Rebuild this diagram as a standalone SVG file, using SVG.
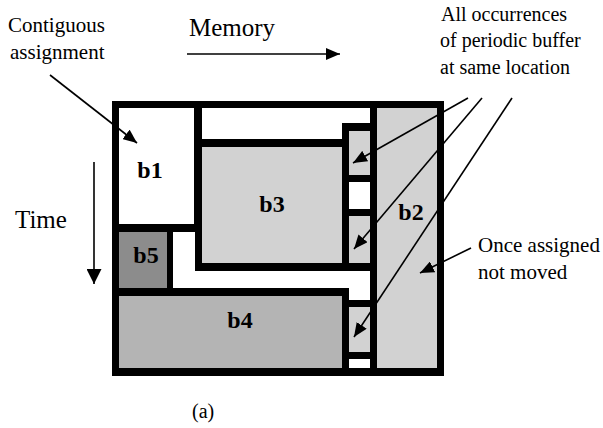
<svg xmlns="http://www.w3.org/2000/svg" width="603" height="428" viewBox="0 0 603 428">
<style>
  .blk { font-weight: bold; font-size: 24px; text-anchor: middle; }
  .ln { stroke: #000; stroke-width: 1.6; fill: none; }
  .light { fill: #d2d2d2; }
  .mid { fill: #b4b4b4; }
  .dark { fill: #8c8c8c; }
  .wht { fill: #fff; }
</style>
<defs>
  <marker id="ah" markerUnits="userSpaceOnUse" markerWidth="14" markerHeight="12" refX="14" refY="6" orient="auto">
    <path d="M0,0 L14,6 L0,12 z" fill="#000"/>
  </marker>
  <marker id="ahb" markerUnits="userSpaceOnUse" markerWidth="15" markerHeight="15" refX="15" refY="7.5" orient="auto">
    <path d="M0,0 L15,7.5 L0,15 z" fill="#000"/>
  </marker>
</defs>
<rect width="603" height="428" fill="#fff"/>

<g id="frame">
  <rect x="112" y="101" width="332" height="275" fill="#000"/>
  <rect class="wht" x="202" y="108" width="168" height="15"/>
  <rect class="wht" x="202" y="123" width="140" height="16"/>
  <rect class="wht" x="173" y="232" width="22" height="56"/>
  <rect class="wht" x="173" y="271" width="197" height="17"/>
  <rect class="wht" x="349" y="288" width="21" height="12"/>
</g>

<g id="b1">
  <rect class="wht" x="119" y="108" width="75" height="116"/>
  <text class="blk" x="150" y="178" font-family="Liberation Serif">b1</text>
</g>
<g id="b3">
  <rect class="light" x="202" y="147" width="140" height="116"/>
  <text class="blk" x="272" y="212" font-family="Liberation Serif">b3</text>
</g>
<g id="b5">
  <rect class="dark" x="119" y="232" width="48" height="56"/>
  <text class="blk" x="146" y="263" font-family="Liberation Serif">b5</text>
</g>
<g id="b4">
  <rect class="mid" x="119" y="296" width="223" height="72"/>
  <text class="blk" x="240" y="328" font-family="Liberation Serif">b4</text>
</g>
<g id="b2">
  <rect class="light" x="377" y="108" width="60" height="260"/>
  <text class="blk" x="411" y="220" font-family="Liberation Serif">b2</text>
</g>
<g id="periodic">
  <rect class="light" x="349" y="131" width="21" height="44"/>
  <rect class="wht" x="349" y="182" width="21" height="27"/>
  <rect class="light" x="349" y="216" width="21" height="47"/>
  <rect class="light" x="349" y="307" width="21" height="45"/>
  <rect class="wht" x="349" y="359" width="21" height="9"/>
</g>

<g id="labels">
  <text font-family="Liberation Serif" font-size="21" x="8" y="32">Contiguous</text>
  <text font-family="Liberation Serif" font-size="21" x="10" y="59">assignment</text>
  <text font-family="Liberation Serif" font-size="25" x="189" y="36">Memory</text>
  <text font-family="Liberation Serif" font-size="25" x="15" y="228">Time</text>
  <text font-family="Liberation Serif" font-size="20" x="441" y="21">All occurrences</text>
  <text font-family="Liberation Serif" font-size="20" x="440" y="47">of periodic buffer</text>
  <text font-family="Liberation Serif" font-size="20" x="440" y="74">at same location</text>
  <text font-family="Liberation Serif" font-size="21" x="478" y="252">Once assigned</text>
  <text font-family="Liberation Serif" font-size="21" x="478" y="279">not moved</text>
  <text font-family="Liberation Serif" font-size="20" x="192" y="418">(a)</text>
</g>

<g id="connectors">
  <line class="ln" x1="187" y1="54" x2="340" y2="54" marker-end="url(#ah)"/>
  <line class="ln" x1="94" y1="162" x2="94" y2="284" marker-end="url(#ahb)"/>
  <line class="ln" x1="50" y1="75" x2="137" y2="143" marker-end="url(#ah)"/>
  <line class="ln" x1="468" y1="98" x2="353" y2="163" marker-end="url(#ah)"/>
  <line class="ln" x1="482" y1="98" x2="354" y2="249" marker-end="url(#ah)"/>
  <line class="ln" x1="512" y1="98" x2="354" y2="337" marker-end="url(#ah)"/>
  <line class="ln" x1="471" y1="248" x2="420" y2="273" marker-end="url(#ah)"/>
</g>
</svg>
